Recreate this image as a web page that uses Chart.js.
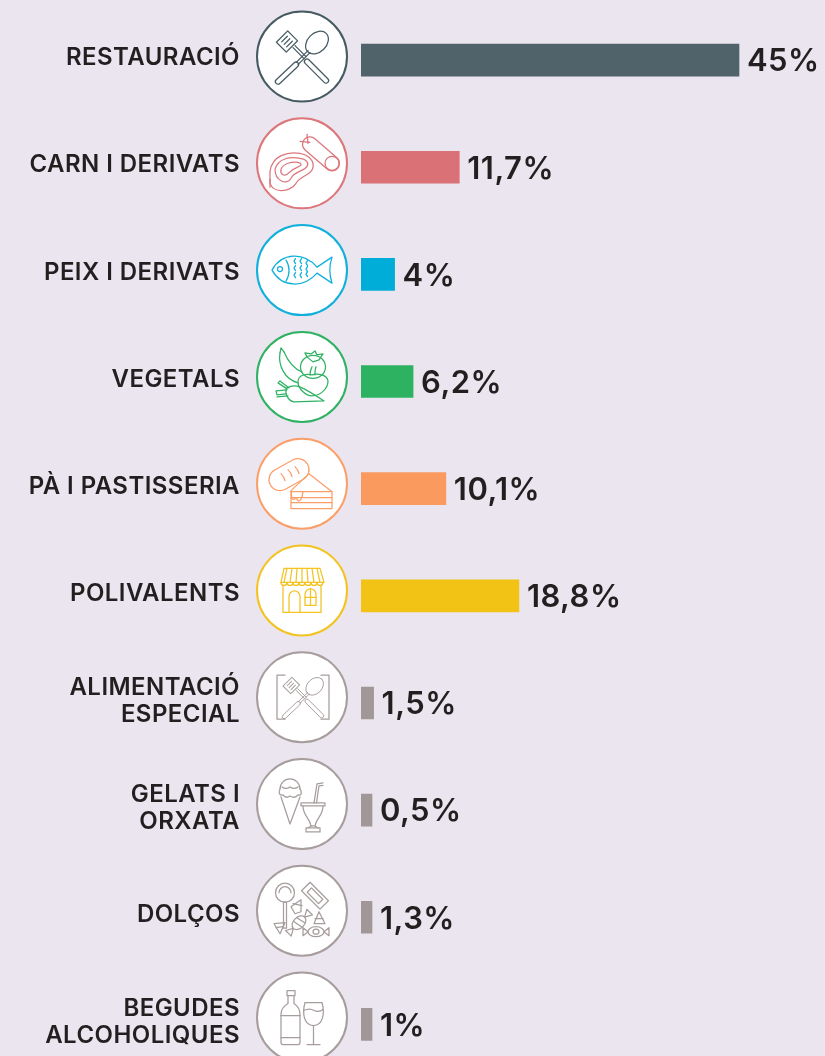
<!DOCTYPE html>
<html lang="ca">
<head>
<meta charset="utf-8">
<title>Comerços per categoria</title>
<script src="https://cdn.jsdelivr.net/npm/chart.js@4"></script>
<style>
html,body{margin:0;padding:0;background:#ebe5ef;overflow:hidden;width:825px;height:1056px}
#wrap{width:825px;height:1056px;overflow:hidden}
canvas{display:block}
</style>
</head>
<body>
<div id="wrap"><canvas id="c" width="825" height="1078"></canvas></div>
<script>
const categories = [
  "RESTAURACIÓ", "CARN I DERIVATS", "PEIX I DERIVATS", "VEGETALS", "PÀ I PASTISSERIA",
  "POLIVALENTS", ["ALIMENTACIÓ","ESPECIAL"], ["GELATS I","ORXATA"], "DOLÇOS", ["BEGUDES","ALCOHOLIQUES"]
];
const values = [45, 11.7, 4, 6.2, 10.1, 18.8, 1.5, 0.5, 1.3, 1];
const barColors = ["#50626a","#d97176","#00acd8","#2db262","#fb9a5f","#f2c214","#a19796","#a19796","#a19796","#a19796"];
const iconColors = ["#465a62","#dc777c","#0fb0dc","#2fb264","#fb9f6a","#f3c322","#a69d9c","#a69d9c","#a69d9c","#a69d9c"];
const TEXT = "#231f20";
const FONT = "Inter, 'Open Sans', sans-serif";

function P(c, pts, close){ c.beginPath(); pts.forEach((p,i)=> i?c.lineTo(p[0],p[1]):c.moveTo(p[0],p[1])); if(close)c.closePath(); c.stroke(); }
function E(c,x,y,rx,ry,rot){ c.beginPath(); c.ellipse(x,y,rx,ry,rot||0,0,Math.PI*2); c.stroke(); }
function Caps(c,x1,y1,x2,y2,r){
  const a=Math.atan2(y2-y1,x2-x1);
  c.beginPath(); c.arc(x1,y1,r,a+Math.PI/2,a-Math.PI/2); c.arc(x2,y2,r,a-Math.PI/2,a+Math.PI/2); c.closePath(); c.stroke();
}
function utensils(c){
  // spatula
  c.save(); c.translate(-15,-15); c.rotate(-Math.PI/4);
  c.strokeRect(-8,-7,16,14);
  P(c,[[-4,-3.5],[4,-3.5]]); P(c,[[-4,0],[4,0]]); P(c,[[-4,3.5],[4,3.5]]);
  c.restore();
  P(c,[[-9,-9],[2,2]]); P(c,[[-7,-11],[4,0]]);
  Caps(c,5,5,24,24,2.6);
  // spoon
  E(c,15,-14,13,9.5,-Math.PI/4);
  P(c,[[6,-6],[-6,6]]); P(c,[[8,-4],[-4,8]]);
  Caps(c,-6,8,-24,25,2.6);
}
const icons = [
  utensils,
  c=>{ // meat and sausage
    c.beginPath(); c.moveTo(-32,8);
    c.bezierCurveTo(-30,-8,-14,-12,-2,-10); c.bezierCurveTo(8,-8,12,-2,11,4);
    c.bezierCurveTo(10,12,-2,12,-6,20); c.bezierCurveTo(-12,30,-32,30,-32,18); c.closePath(); c.stroke();
    c.beginPath(); c.moveTo(-27,6); c.bezierCurveTo(-24,-5,-12,-7,-2,-5); c.bezierCurveTo(5,-4,7,0,5,3);
    c.bezierCurveTo(2,8,-8,8,-11,15); c.bezierCurveTo(-15,22,-27,18,-27,6); c.stroke();
    c.beginPath(); c.moveTo(-21,6); c.bezierCurveTo(-19,0,-10,-2,-4,-1); c.bezierCurveTo(0,0,0,2,-3,3);
    c.bezierCurveTo(-8,5,-12,8,-15,11); c.bezierCurveTo(-18,13,-22,11,-21,6); c.stroke();
    P(c,[[-32,16],[-32,24]]);
    Caps(c,8,-19,30,0,7.5); E(c,30,0,7,7);
    P(c,[[-2,-22],[8,-21]]); P(c,[[5,-29],[6,-20]]);
  },
  c=>{ // fish
    c.beginPath(); c.moveTo(-30,0);
    c.bezierCurveTo(-20,-18,2,-18,15,-3); c.lineTo(30,-13); c.bezierCurveTo(27,-4,27,4,30,13); c.lineTo(15,3);
    c.bezierCurveTo(2,18,-20,18,-30,0); c.closePath(); c.stroke();
    E(c,-22,-1,2.5,2.5);
    c.beginPath(); c.moveTo(-16,-10); c.bezierCurveTo(-12,-4,-12,5,-16,11); c.stroke();
    [[-8,-9],[-2,-9],[4,-7],[-8,-2],[-2,-2],[4,-1],[-8,5],[-2,5],[4,4]].forEach(p=>P(c,[[p[0]+1.5,p[1]-2.5],[p[0],p[1]],[p[0]+1.5,p[1]+2.5]]));
  },
  c=>{ // vegetables
    c.beginPath(); c.moveTo(-22,-24); c.bezierCurveTo(-24,-12,-18,2,-4,6); c.moveTo(-18,-25); c.bezierCurveTo(-14,-16,-8,-8,0,-5); c.stroke();
    P(c,[[-22,-24],[-21,-29],[-18,-25]]);
    E(c,11,-10,12.5,11.5);
    P(c,[[5,-20],[3,-24],[9,-23],[13,-26],[15,-22],[21,-23],[17,-17],[11,-15],[5,-20]],true);
    c.beginPath(); c.moveTo(-4,5); c.bezierCurveTo(-4,-3,6,-3,10,-2); c.bezierCurveTo(16,-4,25,-2,26,4);
    c.bezierCurveTo(26,12,18,19,10,19); c.bezierCurveTo(4,19,-4,12,-4,5); c.stroke();
    c.beginPath(); c.moveTo(8,-2); c.bezierCurveTo(8,-6,9,-8,10,-10); c.moveTo(13,-2); c.bezierCurveTo(13,-5,13,-8,14,-10); c.stroke();
    c.beginPath(); c.moveTo(-15,11); c.bezierCurveTo(-6,6,0,10,22,24); c.lineTo(-8,25); c.bezierCurveTo(-14,24,-18,16,-15,11); c.stroke();
    P(c,[[-15,13],[-26,14],[-25,18],[-16,17]]); P(c,[[-15,12],[-24,6],[-22,4],[-13,11]]); P(c,[[-14,19],[-25,20]]);
  },
  c=>{ // bread and cake
    Caps(c,-22,-4,-4,-14,11);
    c.beginPath(); c.moveTo(-21,-10); c.quadraticCurveTo(-18,-7,-17,-3); c.moveTo(-14,-14); c.quadraticCurveTo(-11,-11,-10,-7); c.moveTo(-7,-17); c.quadraticCurveTo(-4,-14,-3,-10); c.stroke();
    P(c,[[-11,7],[7,-10],[30,8],[30,25],[-11,25]],true);
    P(c,[[-11,8],[30,8]]); P(c,[[-11,14],[30,14]]); P(c,[[-11,19],[30,19]]);
    c.beginPath(); c.moveTo(-11,8); c.lineTo(-10,15); c.quadraticCurveTo(-8,17,-6,14); c.lineTo(-4,17); c.quadraticCurveTo(-1,18,0,13); c.lineTo(1,8); c.stroke();
  },
  c=>{ // shop
    P(c,[[-18,-22],[18,-22],[22,-8],[-21,-8]],true);
    for(let i=-3;i<=3;i++){ P(c,[[i*5,-22],[i*6,-8]]); }
    for(let i=-3.5;i<3.5;i++){ c.beginPath(); c.arc((i+.5)*6,-8,3,0,Math.PI); c.stroke(); }
    P(c,[[-19,-5],[-19,22],[19,22],[19,-5]]);
    c.beginPath(); c.moveTo(-13,22); c.lineTo(-13,6); c.arc(-7.5,6,5.5,Math.PI,0); c.lineTo(-2,22); c.stroke();
    c.beginPath(); c.moveTo(3,15); c.lineTo(3,4); c.arc(8.5,4,5.5,Math.PI,0); c.lineTo(14,15); c.closePath(); c.stroke();
    P(c,[[8.5,-2],[8.5,15]]); P(c,[[3,7],[14,7]]);
  },
  c=>{ // special food
    P(c,[[-17,-22],[-25,-22],[-25,22],[-17,22]]);
    P(c,[[19,-22],[27,-22],[27,22],[19,22]]);
    c.save(); c.translate(1,0); c.scale(.78,.78); utensils(c); c.restore();
  },
  c=>{ // ice cream and drink
    c.beginPath(); c.arc(-12,-15,10,Math.PI,0); c.stroke();
    c.beginPath(); c.moveTo(-22,-15); c.bezierCurveTo(-24,-11,-22,-8,-19,-9); c.quadraticCurveTo(-16,-5,-12,-8); c.quadraticCurveTo(-7,-5,-4,-9); c.bezierCurveTo(0,-8,0,-12,-2,-15); c.stroke();
    c.beginPath(); c.moveTo(-20,-17); c.quadraticCurveTo(-16,-14,-12,-17); c.quadraticCurveTo(-8,-14,-4,-17); c.stroke();
    P(c,[[-21,-7],[-12,20],[-2,-7]]);
    P(c,[[-1,-1],[23,-1],[23,2],[-1,2]],true);
    c.beginPath(); c.moveTo(1,2); c.bezierCurveTo(1,12,8,14,9,22); c.lineTo(13,22); c.bezierCurveTo(14,14,21,12,21,2); c.stroke();
    c.strokeRect(4,24,14,4);P(c,[[9,22],[6,24]]);P(c,[[13,22],[16,24]]);
    P(c,[[12,-1],[15,-20],[21,-21]]); P(c,[[14.5,-1],[17,-18],[21,-18.5]]);
  },
  c=>{ // sweets
    E(c,-17,-18,9.5,9.5);
    c.beginPath(); c.arc(-17,-18,6,Math.PI,0); c.stroke();
    c.strokeRect(-18.5,-8.5,3,26);
    c.save(); c.translate(13,-15); c.rotate(Math.PI/4); c.strokeRect(-13,-6,26,12); c.strokeRect(-8,-3,16,6); c.restore();
    P(c,[[-11,-4],[-1,-11],[-1,1],[-7,3]],true); P(c,[[-9,-7],[0,-5]]);
    c.save(); c.translate(-3,12); c.rotate(-Math.PI/4); E(c,0,0,8,5.5); P(c,[[-8,0],[-15,-4],[-15,4]],true); P(c,[[8,0],[15,-4],[15,4]],true); P(c,[[-3,-5],[-1,5]]); P(c,[[2,-5],[4,4]]); c.restore();
    P(c,[[12,13],[17,1],[23,13]],true); P(c,[[13,8],[21,8]]);
    P(c,[[-28,13],[-17,12],[-22,23]],true); P(c,[[-26,17],[-19,16]]);
    E(c,14,21,8,5); E(c,14,21,3,2.5); P(c,[[6,21],[1,17],[1,25]],true); P(c,[[22,21],[27,17],[27,25]],true);
  },
  c=>{ // bottle and glass
    c.strokeRect(-15,-27,8,5);
    c.beginPath(); c.moveTo(-14,-22); c.lineTo(-14,-14); c.quadraticCurveTo(-21,-10,-21,-3); c.lineTo(-21,25); c.quadraticCurveTo(-21,27,-19,27); c.lineTo(-4,27); c.quadraticCurveTo(-2,27,-2,25); c.lineTo(-2,-3); c.quadraticCurveTo(-2,-10,-8,-14); c.lineTo(-8,-22); c.stroke();
    P(c,[[-21,-2],[-2,-2]]); P(c,[[-21,20],[-2,20]]);
    c.beginPath(); c.moveTo(3,-15); c.lineTo(20,-15); c.bezierCurveTo(23,-4,21,8,11.5,8); c.bezierCurveTo(2,8,0,-4,3,-15); c.stroke();
    c.beginPath(); c.moveTo(1.5,-7); c.quadraticCurveTo(8,-10,12,-7); c.quadraticCurveTo(17,-5,21,-8); c.stroke();
    P(c,[[11.5,8],[11.5,27]]); P(c,[[5,27],[18,27]]);
  }
];

const decorPlugin = {
  id: "decor",
  beforeDraw(chart){ chart.ctx.letterSpacing = "0.45px"; },
  afterDatasetsDraw(chart){
    const c = chart.ctx, y = chart.scales.y, meta = chart.getDatasetMeta(0);
    values.forEach((v,i)=>{
      const cy = y.getPixelForTick(i) - 3.5 - 0.38 * i;
      c.save();
      c.translate(302, cy);
      c.fillStyle = "#ffffff"; c.strokeStyle = iconColors[i]; c.lineWidth = 2;
      c.beginPath(); c.arc(0,0,45,0,Math.PI*2); c.fill(); c.stroke();
      c.lineWidth = 1.25; c.lineJoin = "round"; c.lineCap = "round";
      icons[i](c);
      c.restore();
      const bar = meta.data[i];
      c.save();
      c.fillStyle = TEXT;
      c.font = "600 31px " + FONT;
      c.textAlign = "left"; c.textBaseline = "middle";
      c.fillText(String(v).replace(".", ",") + "%", bar.x + 8, bar.y + 2);
      c.restore();
    });
  }
};

new Chart(document.getElementById("c"), {
  type: "bar",
  data: {
    labels: categories,
    datasets: [{ data: values, backgroundColor: barColors, borderWidth: 0, barThickness: 32, minBarLength: 11 }]
  },
  options: {
    indexAxis: "y",
    responsive: false,
    animation: false,
    layout: { padding: { top: 6.5, right: 44, bottom: 0, left: 0 } },
    plugins: { legend: { display: false }, tooltip: { enabled: false } },
    scales: {
      x: { display: false, min: 0, max: 50 },
      y: {
        afterFit(s){ s.width = 361; s.paddingTop = 0; s.paddingBottom = 0; },
        grid: { display: false, drawTicks: false },
        border: { display: false },
        ticks: {
          padding: 121, labelOffset: -2, color: TEXT, autoSkip: false,
          font: { family: FONT, size: 24, weight: "600", lineHeight: 1.13 }
        }
      }
    }
  },
  plugins: [decorPlugin]
});
</script>
</body>
</html>
